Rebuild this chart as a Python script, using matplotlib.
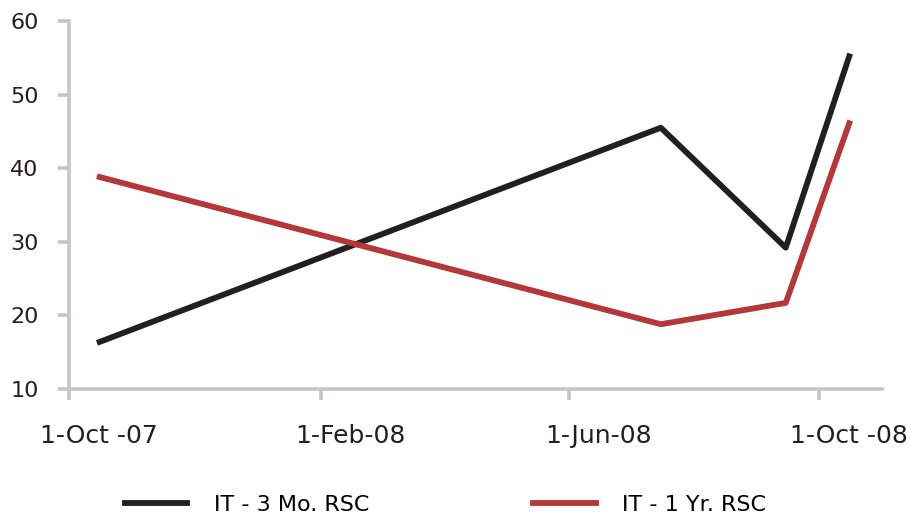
import matplotlib.pyplot as plt
import matplotlib.transforms as mtransforms
import pandas as pd

# values
dates = pd.to_datetime(['2007-10-16', '2008-07-16', '2008-09-15', '2008-10-16'])
rsc_3mo = [16.4, 45.5, 29.2, 55.2]
rsc_1yr = [38.8, 18.8, 21.7, 46.1]
tick_dates = pd.to_datetime(['2007-10-01', '2008-02-01', '2008-06-01', '2008-10-01'])
tick_labels = ['1-Oct -07', '1-Feb-08', '1-Jun-08', '1-Oct -08']

axis_col = '#c3c7cb'
text_col = '#231f20'

fig = plt.figure(figsize=(9.09, 5.16), dpi=100)
ax = fig.add_axes([69/909, 1-389/516, (882-69)/909, (389-21)/516])

ax.plot(dates, rsc_3mo, color='#231f20', lw=4.2, label='IT - 3 Mo. RSC')
ax.plot(dates, rsc_1yr, color='#b5373a', lw=4.2, label='IT - 1 Yr. RSC')

ax.set_xlim(pd.Timestamp('2007-10-01'), pd.Timestamp('2008-11-01'))
ax.set_ylim(10, 60)
ax.set_yticks(range(10, 61, 10))
ax.set_xticks(tick_dates)
ax.set_xticklabels(tick_labels)

for s in ['top', 'right']:
    ax.spines[s].set_visible(False)
for s in ['left', 'bottom']:
    ax.spines[s].set_color(axis_col)
    ax.spines[s].set_linewidth(2.6)
ax.tick_params(axis='both', colors=axis_col, width=2.6, length=8, labelcolor=text_col)
ax.tick_params(axis='x', pad=17, labelsize=18)
ax.tick_params(axis='y', pad=14, labelsize=16)

# labels sit to the right of their ticks, as in the original
shift = mtransforms.ScaledTranslation(30/100, 0, fig.dpi_scale_trans)
for lab in ax.get_xticklabels():
    lab.set_transform(lab.get_transform() + shift)

fig.legend(loc='center', ncol=2, frameon=False, bbox_to_anchor=(0.49, 1-505/516),
           columnspacing=7.4, handlelength=2.8, handletextpad=1.2,
           prop={'family': 'DejaVu Sans Condensed', 'size': 16})

fig.savefig('out.png', dpi=100)
